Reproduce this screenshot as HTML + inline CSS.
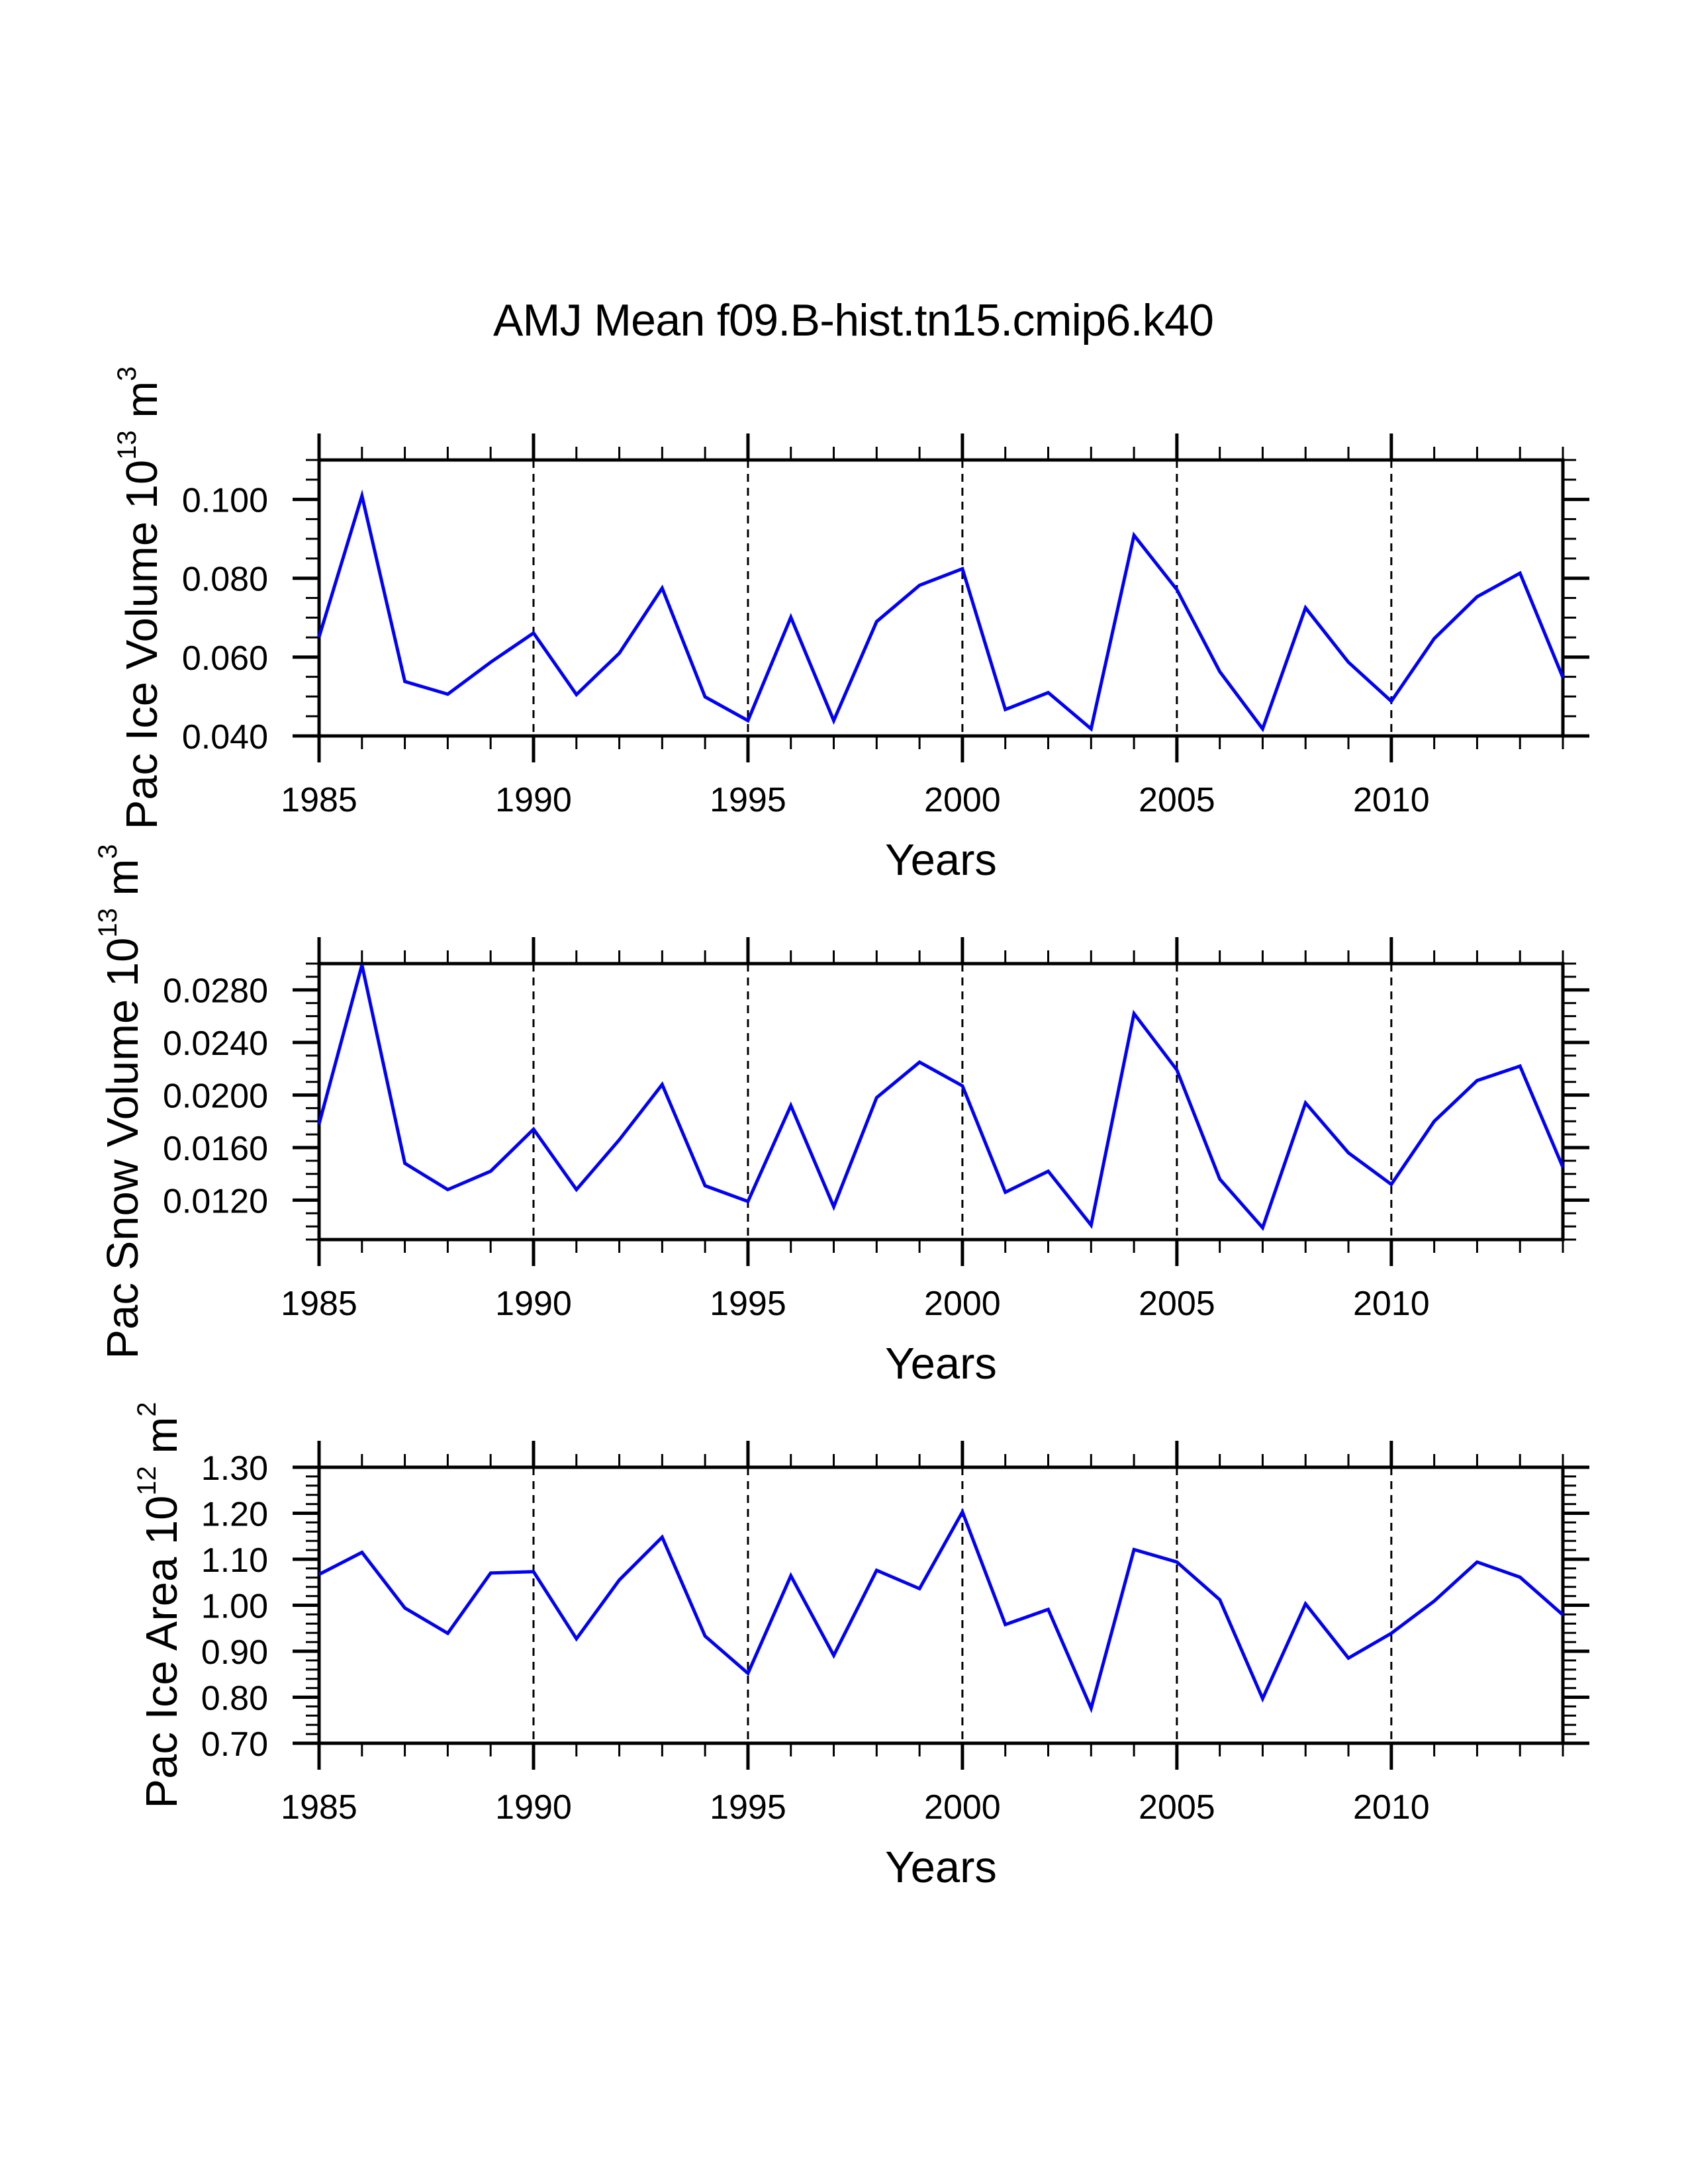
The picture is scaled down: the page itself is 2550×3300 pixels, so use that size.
<!DOCTYPE html>
<html><head><meta charset="utf-8"><style>
html,body{margin:0;padding:0;background:#fff;}
svg{display:block;font-family:"Liberation Sans",Arial,sans-serif;}
</style></head>
<body>
<svg id="chart" width="2550" height="3300" viewBox="0 0 2550 3300" xmlns="http://www.w3.org/2000/svg">
<rect width="2550" height="3300" fill="#fff"/>
<text x="745" y="507" font-size="68" textLength="1089">AMJ Mean f09.B-hist.tn15.cmip6.k40</text>
</svg>
<script>
const years = [1985,1986,1987,1988,1989,1990,1991,1992,1993,1994,1995,1996,1997,1998,1999,2000,2001,2002,2003,2004,2005,2006,2007,2008,2009,2010,2011,2012,2013,2014];
const iceVolume = [0.0651,0.1009,0.0538,0.0506,0.0587,0.0661,0.0505,0.0610,0.0775,0.0499,0.0439,0.0701,0.0439,0.0690,0.0782,0.0824,0.0467,0.0510,0.0418,0.0909,0.0771,0.0563,0.0418,0.0725,0.0587,0.0488,0.0647,0.0753,0.0813,0.0548];
const snowVolume = [0.0178,0.0299,0.0148,0.0128,0.0142,0.0174,0.0128,0.0166,0.0208,0.0131,0.0119,0.0192,0.0115,0.0198,0.0225,0.0207,0.0126,0.0142,0.0101,0.0262,0.0219,0.0136,0.0099,0.0194,0.0156,0.0132,0.0180,0.0211,0.0222,0.0145];
const iceArea = [1.067,1.115,0.994,0.939,1.070,1.073,0.927,1.055,1.148,0.933,0.852,1.064,0.891,1.076,1.036,1.203,0.958,0.991,0.776,1.121,1.094,1.012,0.797,1.003,0.885,0.939,1.009,1.094,1.061,0.979];
const xTickLabels = ["1985","1990","1995","2000","2005","2010"];
const iceVolTicks = ["0.040","0.060","0.080","0.100"];
const snowTicks = ["0.0120","0.0160","0.0200","0.0240","0.0280"];
const areaTicks = ["0.70","0.80","0.90","1.00","1.10","1.20","1.30"];

const NS="http://www.w3.org/2000/svg";
const svg=document.getElementById('chart');
function mk(tag,attrs,parent){const e=document.createElementNS(NS,tag);for(const k in attrs)e.setAttribute(k,attrs[k]);(parent||svg).appendChild(e);return e;}

const X0=482,X1=2361,PH=417;
function xs(yr){return X0+(yr-1985)*(X1-X0)/29;}

const panels=[
 {top:695,min:0.040,max:0.110,minor:0.005,ticks:iceVolTicks,vals:iceVolume,title:["Pac Ice Volume 10","13"," m","3"],tx:237,name:"ice-volume"},
 {top:1456,min:0.009,max:0.030,minor:0.001,ticks:snowTicks,vals:snowVolume,title:["Pac Snow Volume 10","13"," m","3"],tx:208,name:"snow-volume"},
 {top:2217,min:0.70,max:1.30,minor:0.02,ticks:areaTicks,vals:iceArea,title:["Pac Ice Area 10","12"," m","2"],tx:267,name:"ice-area"}
];

panels.forEach(p=>{
  const g=mk('g',{});
  
  
  const T=p.top,B=p.top+PH;
  const ys=v=>B-(v-p.min)/(p.max-p.min)*PH;
  // dashed grid
  xTickLabels.forEach(l=>{const yr=+l;if(yr===1985)return;
    const d=mk('line',{x1:xs(yr),x2:xs(yr),y1:T,y2:B,stroke:'#000','stroke-width':3,'stroke-dasharray':'12,9'},g);
    
    
  });
  // x ticks
  for(let yr=1985;yr<=2014;yr++){
    const major=(yr%5===0);const L=major?40:20;const w=major?5:3;
    const a=mk('line',{x1:xs(yr),x2:xs(yr),y1:T-L,y2:T,stroke:'#000','stroke-width':w},g);
    
    
    const b=mk('line',{x1:xs(yr),x2:xs(yr),y1:B,y2:B+L,stroke:'#000','stroke-width':w},g);
    
    
  }
  xTickLabels.forEach(l=>{
    const t=mk('text',{x:xs(+l),y:B+114,'font-size':52,'text-anchor':'middle'},g);t.textContent=l;
    
    
  });
  // y minor/major ticks
  const n=Math.round((p.max-p.min)/p.minor);
  const majVals=p.ticks.map(Number);
  for(let i=0;i<=n;i++){
    const v=p.min+i*p.minor;const y=ys(v);
    const major=majVals.some(m=>Math.abs(m-v)<p.minor/10);
    const L=major?40:20,w=major?5:3;
    const a=mk('line',{x1:X0-L,x2:X0,y1:y,y2:y,stroke:'#000','stroke-width':w},g);
    
    
    const b=mk('line',{x1:X1,x2:X1+L,y1:y,y2:y,stroke:'#000','stroke-width':w},g);
    
    
  }
  p.ticks.forEach(l=>{
    const t=mk('text',{x:405,y:ys(+l)+19,'font-size':52,'text-anchor':'end'},g);t.textContent=l;
    
    
  });
  // frame
  const fr=mk('rect',{x:X0,y:T,width:X1-X0,height:PH,fill:'none',stroke:'#000','stroke-width':5},g);
  
  
  // data line
  const pts=p.vals.map((v,i)=>xs(years[i]).toFixed(1)+','+ys(v).toFixed(1)).join(' ');
  const pl=mk('polyline',{points:pts,fill:'none',stroke:'#0000ff','stroke-width':5,'stroke-linejoin':'miter'},g);
  
  
  // x title
  const xt=mk('text',{x:(X0+X1)/2,y:B+210,'font-size':67,'text-anchor':'middle'},g);xt.textContent='Years';
  
  
  // y title
  const cy=T+PH/2;
  const yt=mk('text',{x:0,y:0,'font-size':67,'text-anchor':'middle',transform:`translate(${p.tx},${cy}) rotate(-90)`},g);
  
  
  const s1=mk('tspan',{},yt);s1.textContent=p.title[0];
  const s2=mk('tspan',{'font-size':40,dy:-32},yt);s2.textContent=p.title[1];
  const s3=mk('tspan',{dy:32},yt);s3.textContent=p.title[2];
  const s4=mk('tspan',{'font-size':40,dy:-32},yt);s4.textContent=p.title[3];
});
</script>
</body></html>
